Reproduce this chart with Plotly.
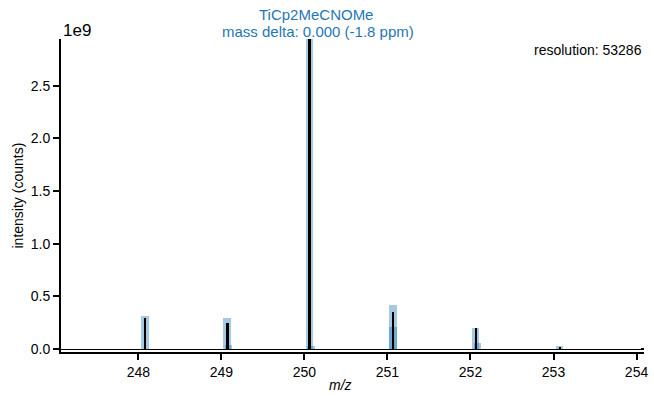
import plotly.graph_objects as go

# theoretical isotope pattern (blue bars)
theo_mz = [248.077, 249.07, 249.085, 250.064, 250.08, 251.065, 251.068, 252.06, 252.085, 253.075]
theo_int = [0.316e9, 0.29e9, 0.04e9, 3.0e9, 0.03e9, 0.42e9, 0.207e9, 0.204e9, 0.06e9, 0.03e9]

# measured spectrum peaks (black lines)
meas_mz = [248.078, 249.075, 250.062, 251.064, 252.066, 253.076, 254.07]
meas_int = [0.297e9, 0.249e9, 2.97e9, 0.347e9, 0.204e9, 0.02e9, 0.004e9]

x_ticks = [248, 249, 250, 251, 252, 253, 254]
y_ticks = [0, 0.5e9, 1.0e9, 1.5e9, 2.0e9, 2.5e9]
y_ticktext = ["0.0", "0.5", "1.0", "1.5", "2.0", "2.5"]

title_line1 = "TiCp2MeCNOMe"
title_line2 = "mass delta: 0.000 (-1.8 ppm)"
resolution_text = "resolution: 53286"

FONT = "Liberation Sans, Arial, sans-serif"
BLUE = "#1f77b4"

fig = go.Figure()
fig.add_trace(go.Bar(
    x=theo_mz, y=theo_int, width=0.09,
    marker=dict(color="rgba(31,119,180,0.4)", line=dict(width=0)),
    showlegend=False,
))
fig.add_trace(go.Bar(
    x=meas_mz, y=meas_int, width=0.03,
    marker=dict(color="black", line=dict(width=0)),
    showlegend=False,
))

fig.update_layout(
    width=654, height=396,
    margin=dict(l=61, r=6, t=39, b=44),
    plot_bgcolor="white", paper_bgcolor="white",
    barmode="overlay", bargap=0,
    font=dict(family=FONT, size=14, color="black"),
    xaxis=dict(
        range=[247.068, 254.09],
        tickvals=x_ticks,
        showline=True, linecolor="black", linewidth=1.6,
        ticks="outside", ticklen=6, tickwidth=1.5, tickcolor="black",
        showgrid=False, zeroline=False,
        tickfont=dict(size=14),
    ),
    yaxis=dict(
        range=[-0.0285e9, 2.944e9],
        tickvals=y_ticks, ticktext=y_ticktext,
        showline=True, linecolor="black", linewidth=2,
        ticks="outside", ticklen=6, tickwidth=1.5, tickcolor="black",
        showgrid=False,
        zeroline=True, zerolinecolor="black", zerolinewidth=1.2,
        tickfont=dict(size=14),
    ),
)

fig.add_annotation(x=250.14, xref="x", y=1, yref="paper", yshift=25,
                   text=title_line1, showarrow=False, xanchor="center", yanchor="middle",
                   font=dict(size=15, color=BLUE))
fig.add_annotation(x=250.16, xref="x", y=1, yref="paper", yshift=8,
                   text=title_line2, showarrow=False, xanchor="center", yanchor="middle",
                   font=dict(size=15, color=BLUE))
fig.add_annotation(x=1, xref="paper", xshift=0, y=1, yref="paper", yshift=-11,
                   text=resolution_text, showarrow=False, xanchor="right", yanchor="middle",
                   font=dict(size=14))
fig.add_annotation(x=0, xref="paper", xshift=0, y=1, yref="paper", yshift=9,
                   text="1e9", showarrow=False, xanchor="left", yanchor="middle",
                   font=dict(size=17))
fig.add_annotation(x=0, xref="paper", xshift=-44, y=0.5, yref="paper",
                   text="intensity (counts)", textangle=-90, showarrow=False,
                   xanchor="center", yanchor="middle", font=dict(size=14))
fig.add_annotation(x=0.48, xref="paper", y=0, yref="paper", yshift=-33,
                   text="<i>m/z</i>", showarrow=False, xanchor="center", yanchor="middle",
                   font=dict(size=14))

fig.write_html("out.html", post_script="document.body.style.margin='0';",
               config={"displayModeBar": False})
